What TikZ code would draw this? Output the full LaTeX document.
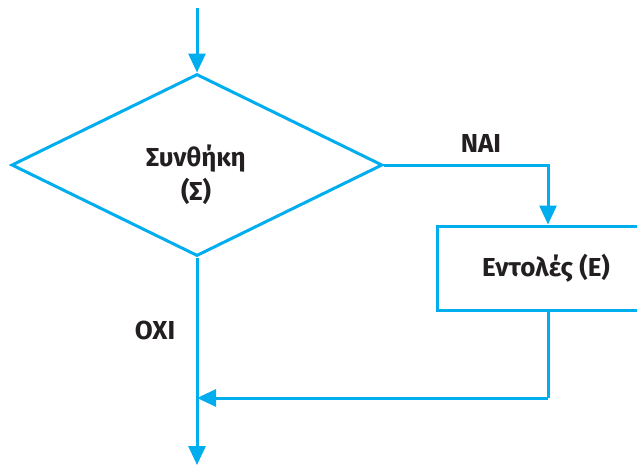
\documentclass[tikz,border=0pt]{standalone}
\usepackage{fontspec}
\setmainfont{Fira Sans}
\usetikzlibrary{arrows.meta,shapes.geometric}
\definecolor{flowline}{RGB}{0,174,239}
\definecolor{flowtext}{RGB}{35,31,32}
\tikzset{
  flow/.style={draw=flowline, line width=3pt},
  tip/.style={-{Triangle[width=17pt,length=19pt]}, flow},
  lbl/.style={text=flowtext, font=\fontsize{26}{34}\selectfont\bfseries, inner sep=0pt},
}
\begin{document}
\begin{tikzpicture}[x=1pt,y=-1pt]
  \useasboundingbox (0,0) rectangle (637,467);
  % decision and statement block
  \node[diamond, flow, inner sep=0pt, minimum width=371pt, minimum height=182pt]
    (cond) at (197,165) {};
  \node[lbl, align=center] (condtext) at (196,175) {Συνθήκη\\(Σ)};
  \node[rectangle, flow, inner sep=0pt, minimum width=222pt, minimum height=84pt]
    (stmt) at (548,268) {};
  \node[lbl] (stmttext) at (546,268) {Εντολές (Ε)};
  % branch labels
  \node[lbl] (yes) at (481,143) {ΝΑΙ};
  \node[lbl] (no) at (155,330) {ΟΧΙ};
  % free ends and the merge point
  \coordinate (entry) at (197,8);
  \coordinate (exit) at (197,465);
  \coordinate (join) at (197,398);
  \coordinate (back) at (548,398);
  % connectors
  \draw[tip] (entry) -- (cond.north);
  \draw[tip] (cond.east) -| (stmt.north);
  \draw[flow] (stmt.south) -- (back);
  \draw[tip] (back) -- (join);
  \draw[tip] (cond.south) -- (exit);
\end{tikzpicture}
\end{document}
